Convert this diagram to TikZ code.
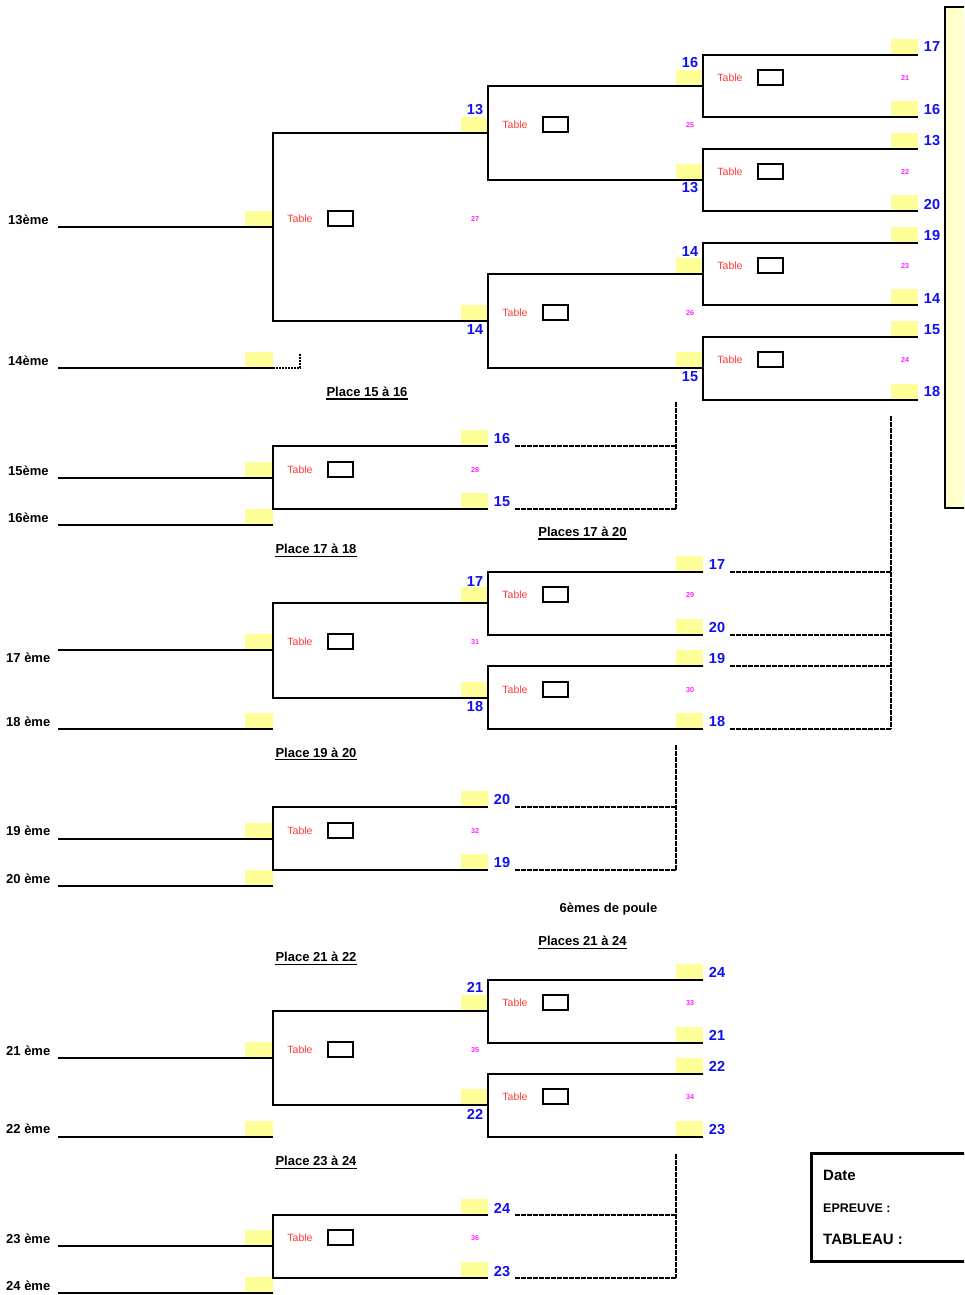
\documentclass[tikz,border=0pt]{standalone}
\usepackage{fontspec}
\setmainfont{Liberation Sans}
\definecolor{ylw}{HTML}{FFFF99}
\definecolor{paleylw}{HTML}{FFFFCC}
\definecolor{tabred}{HTML}{FF3B3B}
\definecolor{pnk}{HTML}{FF22FF}
\definecolor{nblue}{HTML}{1010F0}
\tikzset{
  br/.style={line width=2pt},
  dsh/.style={line width=1.8pt, dash pattern=on 4.5pt off 1.5pt},
  dotl/.style={line width=1.8pt, dash pattern=on 2pt off 1pt},
  yfill/.style={fill=ylw},
  tab/.style={font=\fontsize{10.5}{12}\selectfont, text=tabred, inner sep=0pt, anchor=base, yshift=-3.75pt},
  pk/.style={font=\bfseries\fontsize{7.2}{8}\selectfont, text=pnk, inner sep=0pt, anchor=base, yshift=-2.6pt},
  bn/.style={font=\bfseries\fontsize{14.5}{16}\selectfont, text=nblue, inner sep=0pt, anchor=base, yshift=-5.2pt},
  lab/.style={font=\bfseries\fontsize{13}{15}\selectfont, inner sep=0pt, anchor=base west, yshift=-4.65pt},
  ttl/.style={font=\bfseries\fontsize{13}{15}\selectfont, inner sep=0pt, anchor=base, yshift=-4.65pt},
  tbox/.style={draw, line width=2pt, minimum width=25pt, minimum height=15pt, inner sep=0pt},
  infotxt/.style={font=\bfseries\fontsize{#1}{#1}\selectfont, inner sep=0pt, anchor=base west}
}
% bracket: name, x, ytop, ybot, feed y, pink number
\newcommand\brk[6]{%
  \fill[yfill] (#2+188,#3-16) rectangle (#2+215,#3);
  \fill[yfill] (#2+188,#4-16) rectangle (#2+215,#4);
  \draw[br] (#2+215,#3) -- (#2,#3) -- (#2,#4) -- (#2+215,#4);
  \node[tab] (#1tab) at (#2+27,#5-8) {Table};
  \node[tbox] (#1box) at (#2+67,#5-8.2) {};
  \node[pk] (#1pk) at (#2+202,#5-8) {#6};
}
% entry line: name, label x, line y, label y, text
\newcommand\entryline[5]{%
  \fill[yfill] (245,#3-16) rectangle (273,#3);
  \draw[br] (58,#3) -- (273,#3);
  \node[lab] (#1) at (#2,#4) {#5};
}
\newcommand\bnum[4]{\node[bn] (#1) at (#2,#3) {#4};}
\newcommand\mkttl[4]{%
  \node[ttl] (#1) at (#2,#3) {#4};
  \draw[line width=1.4pt] ([yshift=-2.6pt]#1.base west) -- ([yshift=-2.6pt]#1.base east);
}
\begin{document}
\begin{tikzpicture}[x=1pt,y=-1pt]
\clip (0,0) rectangle (964,1295);
\fill[white] (0,0) rectangle (964,1295);
% right pale yellow panel
\draw[line width=2pt, fill=paleylw] (945,7) rectangle (985,508);
% entry lines
\entryline{l13}{8}{227}{220}{13ème}
\entryline{l14}{8}{368}{361}{14ème}
\entryline{l15}{8}{478}{470.5}{15ème}
\entryline{l16}{8}{525}{517.5}{16ème}
\entryline{l17}{6}{650}{658}{17 ème}
\entryline{l18}{6}{729}{721.7}{18 ème}
\entryline{l19}{6}{839}{831}{19 ème}
\entryline{l20}{6}{886}{878.5}{20 ème}
\entryline{l21}{6}{1058}{1051}{21 ème}
\entryline{l22}{6}{1137}{1128.5}{22 ème}
\entryline{l23}{6}{1246}{1239}{23 ème}
\entryline{l24}{6}{1293}{1286}{24 ème}
\draw[dotl] (273,368) -- (300,368) -- (300,353);
% brackets
\brk{b27}{273}{133}{321}{227}{27}
\brk{b25}{488}{86}{180}{133}{25}
\brk{b26}{488}{274}{368}{321}{26}
\brk{b21}{703}{55}{117}{86}{21}
\brk{b22}{703}{149}{211}{180}{22}
\brk{b23}{703}{243}{305}{274}{23}
\brk{b24}{703}{337}{400}{368}{24}
\brk{b28}{273}{446}{509}{478}{28}
\brk{b31}{273}{603}{698}{650}{31}
\brk{b29}{488}{572}{635}{603}{29}
\brk{b30}{488}{666}{729}{698}{30}
\brk{b32}{273}{807}{870}{839}{32}
\brk{b35}{273}{1011}{1105}{1058}{35}
\brk{b33}{488}{980}{1043}{1011}{33}
\brk{b34}{488}{1074}{1137}{1105}{34}
\brk{b36}{273}{1215}{1278}{1246}{36}
% dashed connectors
\draw[dsh] (515,446) -- (676,446) (515,509) -- (676,509) (676,402) -- (676,509);
\draw[dsh] (730,572) -- (891,572) (730,635) -- (891,635) (730,666) -- (891,666) (730,729) -- (891,729) (891,416) -- (891,729);
\draw[dsh] (515,807) -- (676,807) (515,870) -- (676,870) (676,745) -- (676,870);
\draw[dsh] (515,1215) -- (676,1215) (515,1278) -- (676,1278) (676,1154) -- (676,1278);
% blue numbers
\bnum{n1}{475}{109.5}{13}
\bnum{n2}{475}{329}{14}
\bnum{n3}{690}{62.8}{16}
\bnum{n4}{690}{187.5}{13}
\bnum{n5}{690}{250.8}{14}
\bnum{n6}{690}{376.5}{15}
\bnum{n7}{932}{46.5}{17}
\bnum{n8}{932}{109.5}{16}
\bnum{n9}{932}{140.8}{13}
\bnum{n10}{932}{203.8}{20}
\bnum{n11}{932}{235}{19}
\bnum{n12}{932}{297.8}{14}
\bnum{n13}{932}{329.7}{15}
\bnum{n14}{932}{391.5}{18}
\bnum{n15}{502}{438.7}{16}
\bnum{n16}{502}{501.3}{15}
\bnum{n17}{475}{581}{17}
\bnum{n18}{475}{706}{18}
\bnum{n19}{717}{564.5}{17}
\bnum{n20}{717}{627.5}{20}
\bnum{n21}{717}{658.3}{19}
\bnum{n22}{717}{721.7}{18}
\bnum{n23}{502}{799.5}{20}
\bnum{n24}{502}{862.5}{19}
\bnum{n25}{475}{987.7}{21}
\bnum{n26}{475}{1114}{22}
\bnum{n27}{717}{972.7}{24}
\bnum{n28}{717}{1035}{21}
\bnum{n29}{717}{1066.7}{22}
\bnum{n30}{717}{1129}{23}
\bnum{n31}{502}{1208}{24}
\bnum{n32}{502}{1271}{23}
% titles
\mkttl{t1}{367}{391.7}{Place 15 à 16}
\mkttl{t2}{582.5}{531.7}{Places 17 à 20}
\mkttl{t3}{316}{549}{Place 17 à 18}
\mkttl{t4}{316}{752.5}{Place 19 à 20}
\node[ttl] (t5) at (608.5,908) {6èmes de poule};
\mkttl{t6}{582.5}{941}{Places 21 à 24}
\mkttl{t7}{316}{957}{Place 21 à 22}
\mkttl{t8}{316}{1161}{Place 23 à 24}
% info box
\draw[line width=3pt] (811.5,1153.5) rectangle (995,1261.5);
\node[infotxt=15] (date) at (823,1180.7) {Date};
\node[infotxt=12.5] (epr) at (823,1212) {EPREUVE :};
\node[infotxt=15] (tabl) at (823,1244) {TABLEAU :};
\end{tikzpicture}
\end{document}
